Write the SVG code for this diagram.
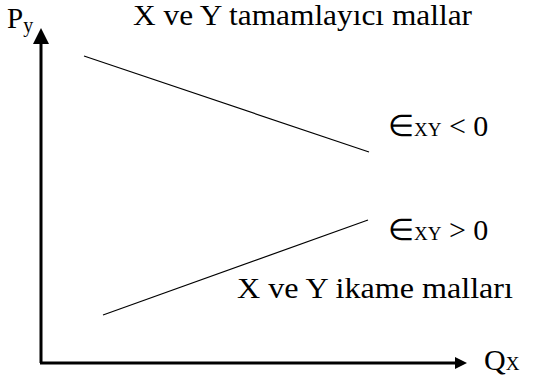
<svg xmlns="http://www.w3.org/2000/svg" width="545" height="376" viewBox="0 0 545 376">
<style>
text{font-family:"Liberation Serif","Times New Roman",serif;fill:#000}
.ax{stroke:#000;stroke-width:3;fill:none}
.ln{stroke:#000;stroke-width:1.2;fill:none}
</style>
<rect width="545" height="376" fill="#fff"/>
<g id="axes">
<line class="ax" x1="41" y1="363" x2="41" y2="42"/>
<line class="ax" x1="40" y1="363" x2="455" y2="363"/>
<polygon points="41,28 33,44 49,44" fill="#000"/>
<polygon points="467,363 455,357 455,369" fill="#000"/>
</g>
<g id="connectors">
<line class="ln" x1="84" y1="56" x2="369" y2="152"/>
<line class="ln" x1="103" y1="315" x2="368" y2="220"/>
</g>
<g id="labels">
<text x="7" y="28" font-size="29">P<tspan font-size="20" dy="4">y</tspan></text>
<text x="133" y="25" font-size="29" textLength="339" lengthAdjust="spacingAndGlyphs">X ve Y tamamlayıcı mallar</text>
<text x="388" y="136" font-size="30">∈<tspan font-size="19">XY</tspan> &lt; 0</text>
<text x="388" y="240" font-size="30">∈<tspan font-size="19">XY</tspan> &gt; 0</text>
<text x="237" y="298" font-size="30" textLength="276" lengthAdjust="spacingAndGlyphs">X ve Y ikame malları</text>
<text x="484" y="370" font-size="30">Q<tspan font-size="19">X</tspan></text>
</g>
</svg>
